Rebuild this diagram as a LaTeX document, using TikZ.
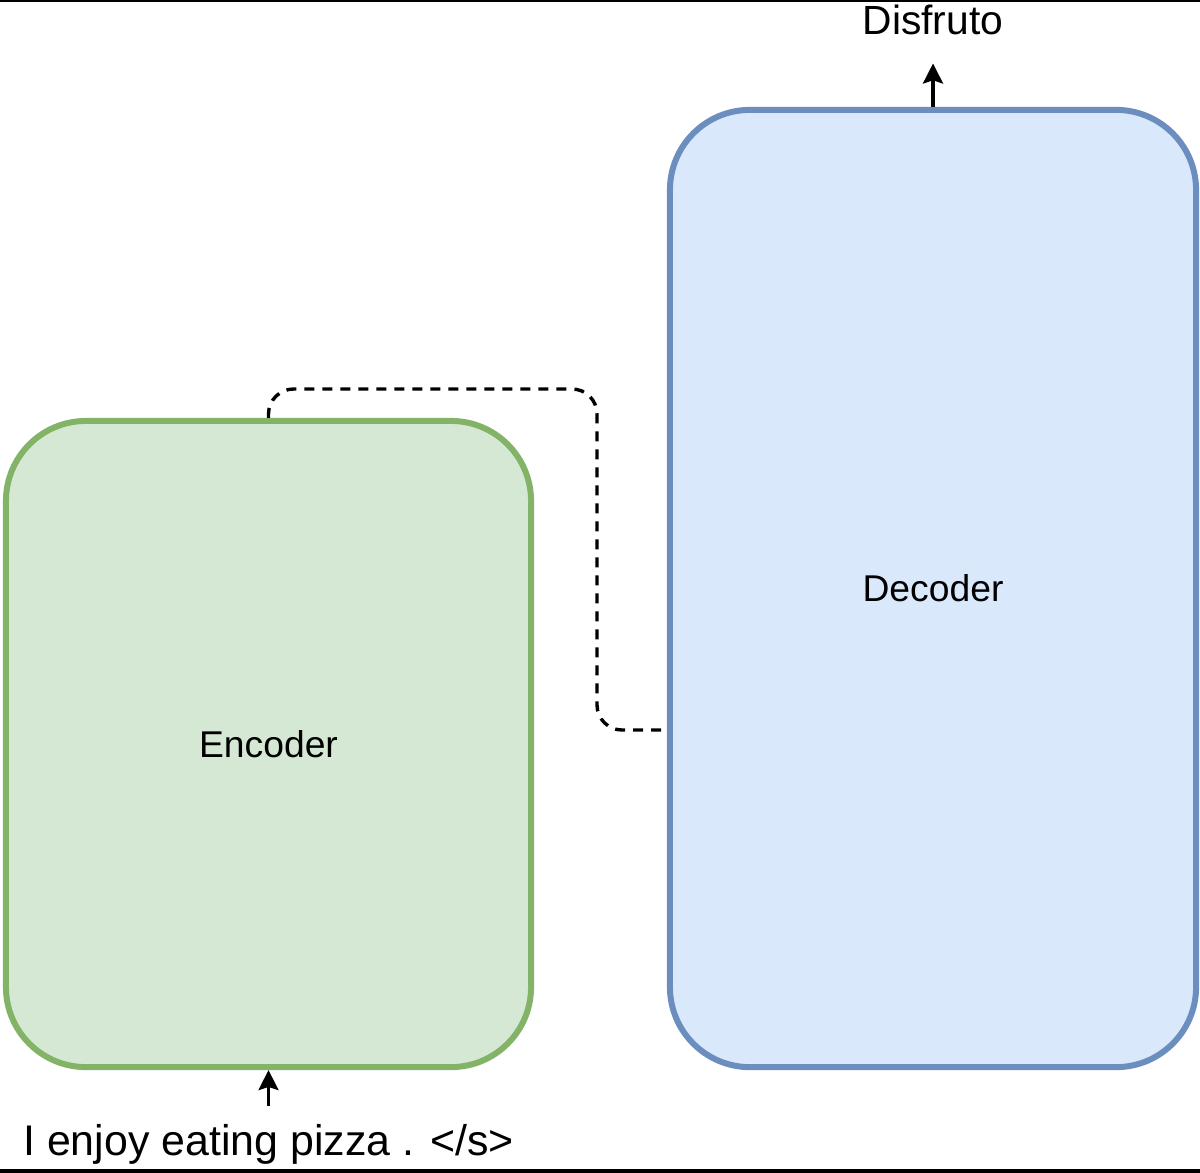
\documentclass[tikz,border=0pt]{standalone}
\usepackage{fontspec}
\setmainfont{Liberation Sans}
\usetikzlibrary{arrows.meta, positioning}
\definecolor{encfill}{HTML}{D5E8D4}
\definecolor{encline}{HTML}{82B366}
\definecolor{decfill}{HTML}{DAE8FC}
\definecolor{decline}{HTML}{6C8EBF}
\tikzset{block/.style={draw, line width=.15cm, rounded corners=2cm, font=\fontsize{26.5pt}{30pt}\selectfont},
	words/.style={inner xsep=0pt, font=\fontsize{#1}{36pt}\selectfont},
	arr/.style={line width=.08cm, -{Stealth[length=.5cm, width=.5cm, inset=.08cm]}},
	link/.style={line width=.085cm, dash pattern=on .25cm off .2cm, rounded corners=.625cm}}

\begin{document}
\begin{tikzpicture}[x=.025cm, y=-.025cm]
	\useasboundingbox (0,0) rectangle (1200,1172);
	%Rand
	\draw[line width=.1cm] (0,0) -- (1200,0);
	\draw[line width=.15cm] (0,1172) -- (1200,1172);
	%Bloecke
	\node[block, fill=encfill, draw=encline, minimum width=13.125cm, minimum height=16.15cm] (enc) at (268.5,744) {Encoder};
	\node[block, fill=decfill, draw=decline, minimum width=13.15cm, minimum height=23.925cm] (dec) at (933,588.5) {Decoder};
	%Texte
	\node[words=30.5pt, inner ysep=.45cm, anchor=base] (input) at (268.5,1155) {I enjoy eating pizza . </s>};
	\node[words=29pt, inner ysep=.72cm, anchor=base] (output) at (933,34) {Disfruto};
	%Pfeile
	\draw[arr] (input.north) -- (enc.south);
	\draw[arr] (dec.north) -- (output.south);
	\draw[link, shorten >=.1cm] (enc.north) |- (597,389) |- (dec.west |- 0,730);
\end{tikzpicture}
\end{document}
